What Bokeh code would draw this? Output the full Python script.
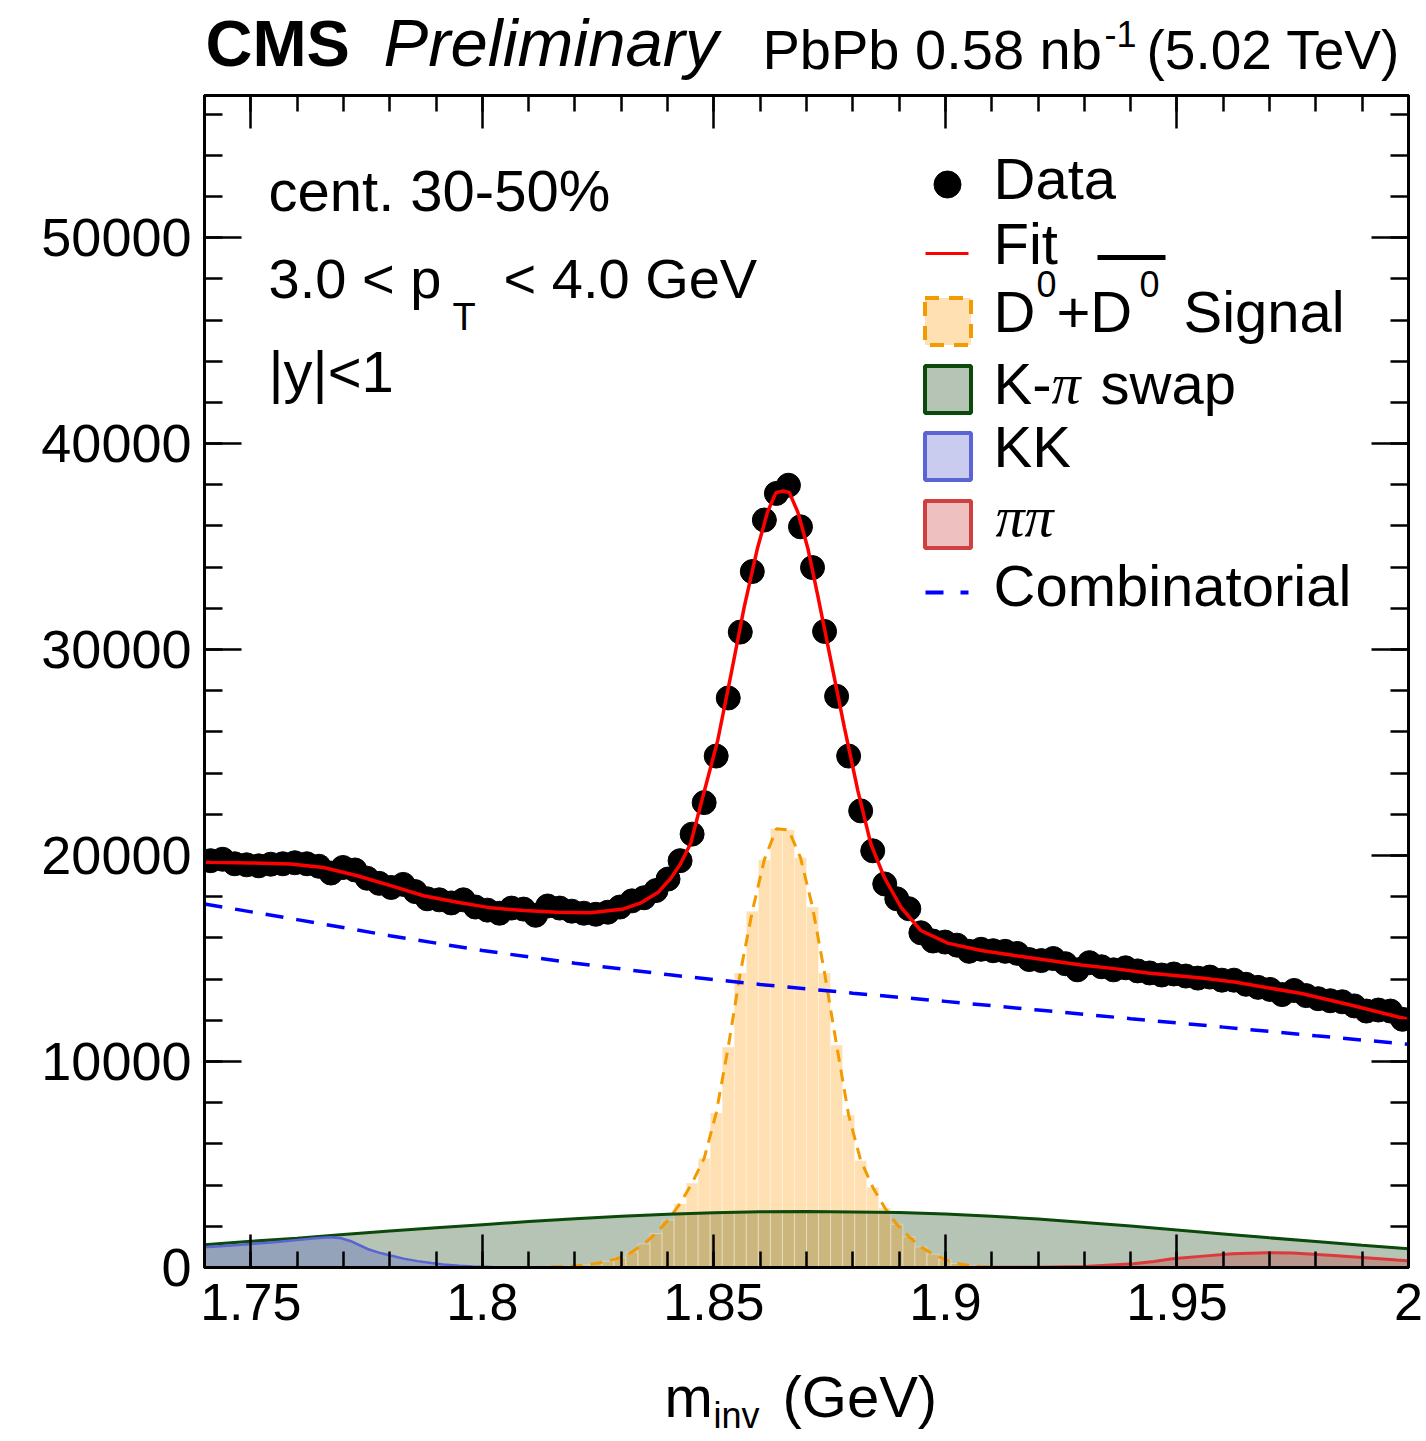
from bokeh.plotting import figure
from bokeh.layouts import column
from bokeh.models import Range1d, FixedTicker, LinearAxis, Label, PrintfTickFormatter, CustomJSTickFormatter
from bokeh.embed import file_html
from bokeh.resources import INLINE

# ---------------- data ----------------
bin_lo = 1.74
bin_width = 0.0026

# D0 candidate invariant-mass histogram (100 bins, 1.74-2.00 GeV)
counts = [
    19750, 19820, 19600, 19550, 19500, 19580, 19600, 19650, 19600, 19480,
    19150, 19420, 19300, 18900, 18650, 18450, 18600, 18250, 17900, 17850,
    17700, 17850, 17500, 17350, 17200, 17450, 17400, 17100, 17550, 17450,
    17300, 17200, 17150, 17250, 17500, 17800, 17950, 18300, 18860, 19750,
    21040, 22570, 24830, 27650, 30850, 33790, 36290, 37580, 37980, 35960,
    33980, 30880, 27730, 24830, 22170, 20230, 18620, 17900, 17420, 16250,
    15850, 15800, 15650, 15350, 15450, 15380, 15350, 15250, 14950, 14900,
    15000, 14750, 14450, 14800, 14600, 14450, 14550, 14400, 14300, 14200,
    14250, 14150, 14050, 14100, 13950, 13950, 13750, 13600, 13500, 13250,
    13450, 13200, 13050, 12950, 12900, 12700, 12450, 12500, 12450, 12050,
]

# D0 + anti-D0 signal template, same binning
signal = [
    0, 0, 0, 0, 0, 0, 0, 0, 0, 0,
    0, 0, 0, 0, 0, 0, 0, 0, 0, 0,
    0, 0, 0, 0, 0, 0, 0, 0, 20, 40,
    60, 120, 200, 300, 480, 750, 1150, 1650, 2300, 3100,
    4100, 5300, 7500, 10700, 14300, 17300, 19800, 21300, 21250, 19900,
    17500, 14300, 10800, 7400, 5200, 3900, 2900, 2100, 1500, 1000,
    650, 380, 200, 100, 40, 20, 0, 0, 0, 0,
    0, 0, 0, 0, 0, 0, 0, 0, 0, 0,
    0, 0, 0, 0, 0, 0, 0, 0, 0, 0,
    0, 0, 0, 0, 0, 0, 0, 0, 0, 0,
]

# total fit curve
fit_m = [1.7400, 1.7413, 1.7499, 1.7586, 1.7657, 1.7730, 1.7802, 1.7873, 1.7946, 1.8018,
         1.8089, 1.8162, 1.8234, 1.8305, 1.8342, 1.8379, 1.8407, 1.8428, 1.8450, 1.8472,
         1.8508, 1.8537, 1.8565, 1.8594, 1.8616, 1.8634, 1.8650, 1.8663, 1.8681, 1.8703,
         1.8724, 1.8753, 1.8782, 1.8811, 1.8839, 1.8868, 1.8904, 1.8947, 1.9005, 1.9077,
         1.9149, 1.9221, 1.9293, 1.9365, 1.9437, 1.9553, 1.9624, 1.9769, 1.9877, 1.9978, 2.0000]
fit_y = [19680, 19670, 19640, 19590, 19420, 19020, 18540, 18050, 17730, 17460,
         17330, 17250, 17220, 17410, 17700, 18200, 18900, 19600, 20600, 22500,
         25560, 28800, 32010, 34910, 36690, 37620, 37700, 37620, 36690, 34910,
         32660, 29430, 26200, 23140, 20560, 18940, 17490, 16360, 15750, 15390,
         15150, 14920, 14690, 14510, 14300, 14060, 13860, 13300, 12730, 12160, 12050]

# K-pi swapped component
swap_m = [1.74, 1.75, 1.76, 1.77, 1.78, 1.79, 1.80, 1.81, 1.82, 1.83, 1.84, 1.85, 1.86,
          1.87, 1.88, 1.89, 1.90, 1.91, 1.92, 1.93, 1.94, 1.95, 1.96, 1.97, 1.98, 1.99, 2.00]
swap_y = [1110, 1270, 1420, 1600, 1770, 1930, 2080, 2230, 2370, 2490, 2590, 2660, 2710,
          2720, 2700, 2670, 2600, 2490, 2350, 2190, 2010, 1820, 1630, 1440, 1260, 1080, 910]

# D0 -> KK reflection
kk_m = [1.740, 1.745, 1.750, 1.755, 1.760, 1.764, 1.7672, 1.7695, 1.7715, 1.7735, 1.7752,
        1.778, 1.7802, 1.783, 1.786, 1.789, 1.7916, 1.795, 1.798, 1.802, 1.806, 1.810, 2.000]
kk_y = [980, 1060, 1140, 1230, 1330, 1420, 1470, 1420, 1290, 1080, 900,
        700, 580, 430, 310, 220, 150, 90, 50, 20, 5, 0, 0]

# D0 -> pi pi reflection
pipi_m = [1.740, 1.900, 1.920, 1.930, 1.9406, 1.945, 1.949, 1.955, 1.962, 1.9695,
          1.975, 1.9838, 1.990, 1.9975, 2.000]
pipi_y = [0, 0, 10, 50, 180, 290, 420, 540, 665, 715, 700, 580, 480, 360, 330]

# combinatorial background
comb_m = [1.74, 1.76, 1.78, 1.80, 1.82, 1.84, 1.86, 1.88, 1.90, 1.92, 1.94, 1.96, 1.98, 2.00]
comb_y = [17650, 16890, 16110, 15390, 14770, 14220, 13740, 13320, 12920, 12500, 12080,
          11670, 11250, 10840]

x_major = [1.75, 1.8, 1.85, 1.9, 1.95, 2.0]
y_major = [0, 10000, 20000, 30000, 40000, 50000]

centers = [bin_lo + bin_width * (i + 0.5) for i in range(len(counts))]

# ---------------- page geometry ----------------
W, H = 1426, 1441
TOP_H = 90            # header strip
BOT_Y = 1365          # page y where the axis-title strip begins
X0, X1 = 1.74, 2.0
Y0, Y1 = 0, 56900
FL, FR, FT, FB = 204, 1408, 95, 1267   # frame edges, page pixels
FONT = "Liberation Sans"
BASE = 0.375          # label anchor offset (fraction of font size) to land on the baseline

p = figure(width=W, height=BOT_Y - TOP_H, x_range=Range1d(X0, X1), y_range=Range1d(Y0, Y1),
           output_backend="svg", toolbar_location=None,
           min_border_left=FL, min_border_right=W - FR,
           min_border_top=FT - TOP_H, min_border_bottom=BOT_Y - FB)
p.grid.visible = False
p.background_fill_color = "white"
p.border_fill_color = "white"
p.outline_line_color = "black"
p.outline_line_width = 3


def canvas_x(px):
    return X0 + (px - FL) * (X1 - X0) / (FR - FL)


def canvas_y(py):
    return Y0 + (FB - py) * (Y1 - Y0) / (FB - FT)


def style_axis(ax, major, minor, tick_len, minor_len, label_size):
    ax.ticker = FixedTicker(ticks=major, minor_ticks=minor)
    ax.axis_line_color = "black"
    ax.axis_line_width = 3
    ax.major_tick_in = tick_len
    ax.major_tick_out = 0
    ax.minor_tick_in = minor_len
    ax.minor_tick_out = 0
    ax.major_tick_line_width = 2.5
    ax.minor_tick_line_width = 2.5
    ax.major_tick_line_color = "black"
    ax.minor_tick_line_color = "black"
    ax.axis_label = None
    if label_size:
        ax.formatter = PrintfTickFormatter(format="%g")
        ax.major_label_text_font = FONT
        ax.major_label_text_font_size = f"{label_size}px"
        ax.major_label_text_color = "black"
    else:
        ax.formatter = CustomJSTickFormatter(code="return ''")
        ax.major_label_text_font_size = "1px"
        ax.major_label_standoff = 0


x_minor = [round(1.74 + 0.01 * k, 2) for k in range(27)]
y_minor = [2000 * k for k in range(29)]

style_axis(p.xaxis[0], x_major, x_minor, 33, 16, 52)
p.xaxis[0].major_label_standoff = 16
style_axis(p.yaxis[0], y_major, y_minor, 37, 18, 54)
p.yaxis[0].major_label_standoff = 13

top_ax = LinearAxis()
style_axis(top_ax, x_major, x_minor, 33, 16, None)
p.add_layout(top_ax, "above")
right_ax = LinearAxis()
style_axis(right_ax, y_major, y_minor, 37, 18, None)
p.add_layout(right_ax, "right")

# ---------------- components ----------------
SWAP_FILL, SWAP_LINE = "#0A3A0A", "#0B4A0B"
KK_FILL, KK_LINE = "#4B55C8", "#5A64D4"
PIPI_FILL, PIPI_LINE = "#C83030", "#DC3A3A"
SIG_FILL, SIG_LINE = "#FF9900", "#F29A00"

p.varea(x=swap_m, y1=[0] * len(swap_m), y2=swap_y, fill_color=SWAP_FILL, fill_alpha=0.3)
p.varea(x=kk_m, y1=[0] * len(kk_m), y2=kk_y, fill_color=KK_FILL, fill_alpha=0.3)
p.varea(x=pipi_m, y1=[0] * len(pipi_m), y2=pipi_y, fill_color=PIPI_FILL, fill_alpha=0.3)

p.vbar(x=centers, top=signal, width=bin_width, bottom=0,
       fill_color=SIG_FILL, fill_alpha=0.3, line_color="white", line_alpha=0.35, line_width=1)
p.line(x=centers, y=signal, line_color=SIG_LINE, line_width=3, line_dash="12 8")

p.line(x=swap_m, y=swap_y, line_color=SWAP_LINE, line_width=3)
p.line(x=kk_m, y=kk_y, line_color=KK_LINE, line_width=2.5)
p.line(x=pipi_m, y=pipi_y, line_color=PIPI_LINE, line_width=3)
p.line(x=comb_m, y=comb_y, line_color="#0000FF", line_width=3.5, line_dash="18 13")

p.scatter(x=centers, y=counts, size=24, marker="circle", fill_color="black", line_color="black")
p.line(x=fit_m, y=fit_y, line_color="#FF0000", line_width=3.5)


# ---------------- text helpers ----------------
def label(target, x, y, s, size, style="normal", font=FONT):
    target.add_layout(Label(x=x, y=y, text=s, text_font=font,
                            text_font_size=f"{size}px", text_font_style=style,
                            text_baseline="alphabetic", text_align="left", text_color="black"))


def txt(px, py, s, size, style="normal", font=FONT):
    # text inside the main frame, placed by page pixel of its baseline
    label(p, canvas_x(px), canvas_y(py - BASE * size), s, size, style, font)


def strip(h, y_top):
    # text strip whose frame lines up with the main frame; data units = page pixels
    f = figure(width=W, height=h, x_range=Range1d(FL, FR), y_range=Range1d(y_top + h, y_top),
               output_backend="svg", toolbar_location=None,
               min_border_left=FL, min_border_right=W - FR, min_border_top=0, min_border_bottom=0,
               x_axis_location=None, y_axis_location=None)
    f.grid.visible = False
    f.outline_line_color = None
    f.background_fill_color = "white"
    f.border_fill_color = "white"
    return f


# header: experiment, status, dataset
head = strip(TOP_H, 0)


def htxt(px, py, s, size, style="normal"):
    label(head, px, py - BASE * size, s, size, style)


htxt(205, 67, "CMS", 65, "bold")
htxt(383, 67, "Preliminary", 67, "italic")
htxt(762, 70, "PbPb 0.58 nb", 56)
htxt(1104, 47, "-1", 36)
htxt(1146, 70, "(5.02 TeV)", 55)

# x-axis title with subscript
foot = strip(H - BOT_Y, BOT_Y)


def ftxt(px, py, s, size):
    label(foot, px, py - BASE * size, s, size)


ftxt(664, 1418, "m", 58)
ftxt(713, 1428, "inv", 36)
ftxt(782, 1418, "(GeV)", 58)

# selection text
txt(268, 212, "cent. 30-50%", 58)
txt(268, 299, "3.0 < p", 56)
txt(452, 331, "T", 38)
txt(503, 299, "< 4.0 GeV", 56)
txt(268, 393, "|y|<1", 58)

# ---------------- legend ----------------
LX = 993
p.scatter(x=[canvas_x(947)], y=[canvas_y(184)], size=27, marker="circle", color="black")
txt(LX, 200, "Data", 58)

p.segment(x0=[canvas_x(925)], y0=[canvas_y(253)], x1=[canvas_x(968)], y1=[canvas_y(253)],
          line_color="#FF0000", line_width=3)
txt(LX, 265, "Fit", 58)
p.segment(x0=[canvas_x(1097)], y0=[canvas_y(257)], x1=[canvas_x(1165)], y1=[canvas_y(257)],
          line_color="black", line_width=5)

box = dict(width=46, height=47, width_units="screen", height_units="screen", line_width=4)
p.rect(x=[canvas_x(947.5)], y=[canvas_y(321)], fill_color=SIG_FILL, fill_alpha=0.3,
       line_color=SIG_LINE, line_dash="14 10", **box)
txt(LX, 333, "D", 58)
txt(1036, 297, "0", 36)
txt(1056, 333, "+D", 58)
txt(1139, 297, "0", 36)
txt(1183, 333, "Signal", 58)

p.rect(x=[canvas_x(947.5)], y=[canvas_y(389)], fill_color=SWAP_FILL, fill_alpha=0.3,
       line_color=SWAP_LINE, **box)
txt(LX, 405, "K-", 58)
txt(1051, 405, "π", 58, "italic", "Liberation Serif")
txt(1100, 405, "swap", 58)

p.rect(x=[canvas_x(947.5)], y=[canvas_y(456)], fill_color=KK_FILL, fill_alpha=0.3,
       line_color=KK_LINE, **box)
txt(LX, 468, "KK", 58)

p.rect(x=[canvas_x(947.5)], y=[canvas_y(524)], fill_color=PIPI_FILL, fill_alpha=0.3,
       line_color="#D04040", **box)
txt(995, 538, "ππ", 58, "italic", "Liberation Serif")

p.segment(x0=[canvas_x(925)], y0=[canvas_y(592)], x1=[canvas_x(968)], y1=[canvas_y(592)],
          line_color="#0000FF", line_width=4, line_dash="18 17")
txt(LX, 607, "Combinatorial", 58)

page = column(head, p, foot, spacing=0)
open("out.html", "w").write(file_html(page, INLINE))
